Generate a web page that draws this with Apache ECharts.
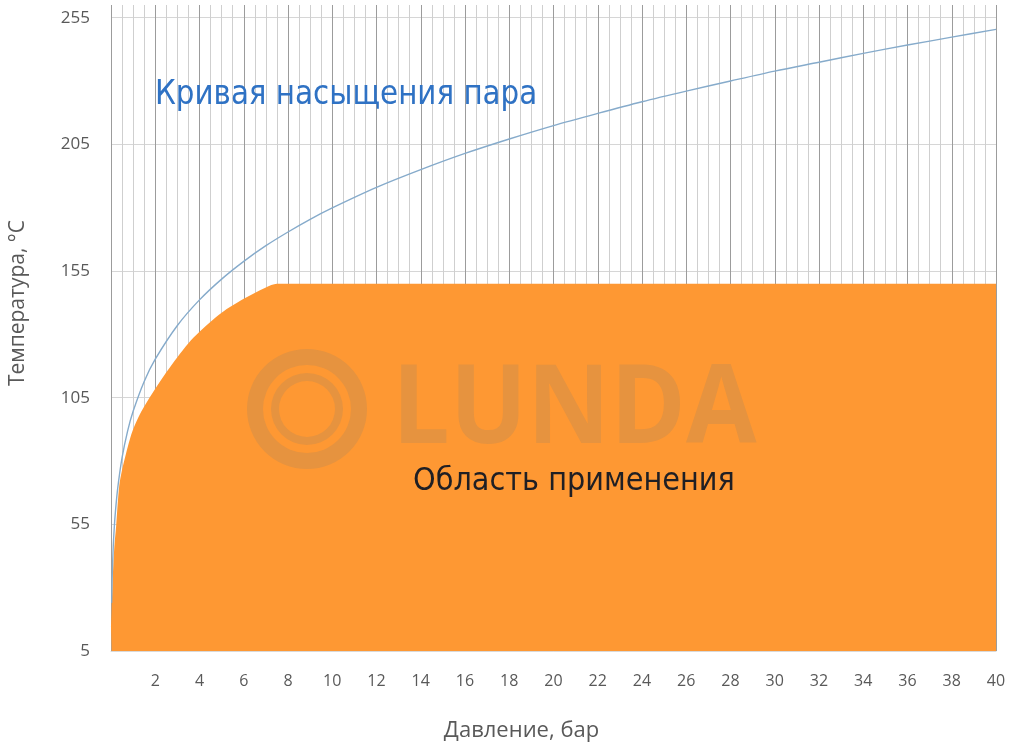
<!DOCTYPE html>
<html>
<head>
<meta charset="utf-8">
<script src="https://cdn.jsdelivr.net/npm/echarts@6/dist/echarts.min.js"></script>
<style>
  html, body { margin: 0; padding: 0; background: #fff; }
  #chart { width: 1015px; height: 747px; }
</style>
</head>
<body>
<div id="chart"></div>
<script>
// кривая насыщения пара (давление, бар -> температура, °C)
var satPressure = [0.03, 0.05, 0.1, 0.15, 0.2, 0.3, 0.5, 0.75, 1, 1.5, 2, 3, 4, 5, 6, 7, 8, 9, 10, 12, 14, 16, 18, 20, 22, 24, 26, 28, 30, 32, 34, 36, 38, 40];
var satTemp = [24, 33, 46, 54, 60, 69, 81.3, 91.8, 99.6, 111.4, 120.2, 133.5, 143.6, 151.8, 158.8, 165, 170.4, 175.4, 179.9, 188, 195, 201.4, 207.1, 212.4, 217.2, 221.8, 226, 230, 233.9, 237.4, 240.9, 244.2, 247.3, 250.4];

// область применения
var areaPressure = [0, 0.03, 0.08, 0.15, 0.23, 0.37, 0.5, 0.68, 0.85, 1, 1.25, 1.5, 2, 2.5, 3, 3.5, 4, 5, 6, 7, 7.5, 8, 40];
var areaTemp = [14, 22, 34, 46, 54, 70, 76.5, 83, 88.5, 92.5, 97.5, 101.5, 108.5, 115, 121, 126.5, 131, 138.5, 144, 148.5, 150, 150, 150];

var yTicks = [5, 55, 105, 155, 205, 255];

function pairs(xs, ys) {
  return xs.map(function (x, i) { return [x, ys[i]]; });
}

var chart = echarts.init(document.getElementById('chart'));
var labelFont = '"Open Sans", sans-serif';

var option = {
  animation: false,
  grid: { left: 110, right: 19, top: 5, bottom: 93 },
  xAxis: {
    type: 'value',
    min: 0,
    max: 40,
    interval: 2,
    name: 'Давление, бар',
    nameLocation: 'middle',
    nameGap: 69,
    nameTextStyle: { color: '#595959', fontSize: 22, fontFamily: labelFont, padding: [0, 64, 0, 0] },
    axisLine: { show: true, lineStyle: { color: '#d9d9d9' } },
    axisTick: { show: false },
    axisLabel: { showMinLabel: false, margin: 22, color: '#595959', fontSize: 16, fontFamily: labelFont },
    splitLine: { show: true, lineStyle: { color: '#9c9c9c', width: 1 } },
    minorTick: { show: false, splitNumber: 4 },
    minorSplitLine: { show: true, lineStyle: { color: '#cfcfcf', width: 1 } }
  },
  yAxis: {
    type: 'value',
    min: 5,
    max: 260,
    name: 'Температура, °С',
    nameLocation: 'middle',
    nameGap: 82,
    nameTextStyle: { color: '#595959', fontSize: 21, fontFamily: labelFont, padding: [0, 0, 0, 50] },
    axisLine: { show: false },
    axisTick: { show: false, customValues: yTicks },
    axisLabel: { margin: 21, color: '#595959', fontSize: 17, fontFamily: labelFont, customValues: yTicks },
    splitLine: { show: true, lineStyle: { color: '#d6d6d6', width: 1 } }
  },
  series: [
    {
      name: 'Область применения',
      type: 'line',
      data: pairs(areaPressure, areaTemp),
      smooth: 0.3,
      showSymbol: false,
      lineStyle: { width: 0 },
      areaStyle: { color: '#fe9833', opacity: 1, origin: 'start' },
      z: 2
    },
    {
      name: 'Кривая насыщения пара',
      type: 'line',
      data: pairs(satPressure, satTemp),
      smooth: 0.3,
      showSymbol: false,
      lineStyle: { color: '#86abcb', width: 1.4 },
      z: 3
    }
  ],
  graphic: [
    // водяной знак
    { type: 'ring', z: 50, shape: { cx: 307, cy: 409, r: 60, r0: 44 }, style: { fill: '#e6933f' } },
    { type: 'ring', z: 50, shape: { cx: 307, cy: 409, r: 36, r0: 28 }, style: { fill: '#e6933f' } },
    {
      type: 'text', z: 50, x: 392, y: 412, scaleX: 0.93,
      style: { text: 'LUNDA', fill: '#e6933f', font: 'bold 110px "Open Sans", sans-serif', textAlign: 'left', textVerticalAlign: 'middle' }
    },
    {
      type: 'text', z: 60, x: 155, y: 95, scaleX: 0.96,
      style: { text: 'Кривая насыщения пара', fill: '#2f72c4', font: '34px "DejaVu Sans Condensed", "DejaVu Sans", sans-serif', textAlign: 'left', textVerticalAlign: 'middle' }
    },
    {
      type: 'text', z: 60, x: 413, y: 482,
      style: { text: 'Область применения', fill: '#1f1f24', font: '32px "DejaVu Sans Condensed", "DejaVu Sans", sans-serif', textAlign: 'left', textVerticalAlign: 'middle' }
    }
  ]
};

chart.setOption(option);
</script>
</body>
</html>
